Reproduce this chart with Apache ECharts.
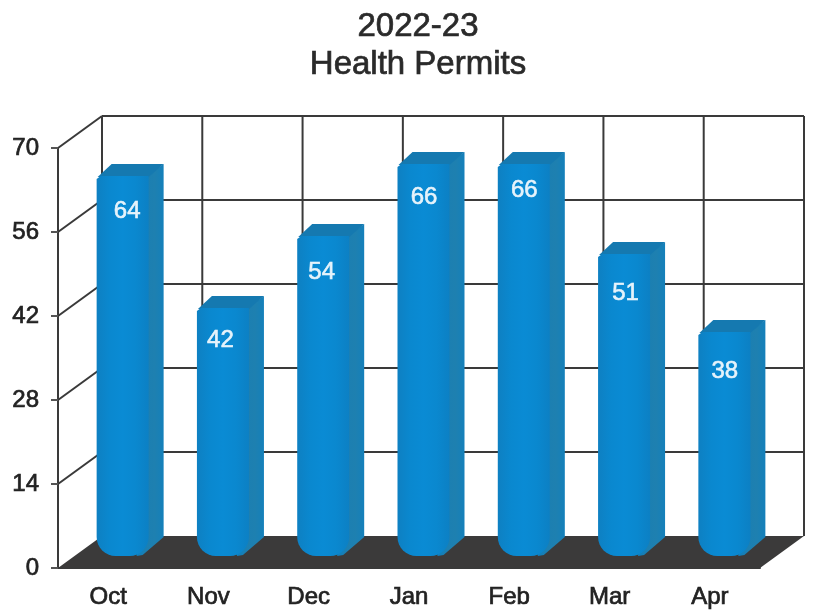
<!DOCTYPE html>
<html>
<head>
<meta charset="utf-8">
<style>html,body{margin:0;padding:0;background:#fff}#c{width:814px;height:616px}</style>
<script src="https://cdn.jsdelivr.net/npm/echarts@6/dist/echarts.min.js"></script>
</head>
<body>
<div id="c"></div>
<script>
const categories = ['Oct', 'Nov', 'Dec', 'Jan', 'Feb', 'Mar', 'Apr'];
const permits = [64, 42, 54, 66, 66, 51, 38];
const yTicks = [0, 14, 28, 42, 56, 70];

// Pseudo-3D look (pixels)
const WALL_DX = 44, WALL_DY = 32;
const BAR_LEFT = -11.5, BAR_W = 52, SIDE_DX = 15, SIDE_DY = 12, TOP_LIFT = 8, BASE_LIFT = 12, R = 19;
const LABEL_STYLE = [[19,35],[12,32],[13,36],[15,33],[15,26],[16,39],[15,39]];
const INK = '#3a3a3a';
const FONT = '"Liberation Sans", Arial, sans-serif';

function arc(cx, cy, r, a0, a1) {
  const pts = [];
  for (let k = 0; k <= 8; k++) {
    const a = (a0 + (a1 - a0) * k / 8) * Math.PI / 180;
    pts.push([cx + r * Math.cos(a), cy + r * Math.sin(a)]);
  }
  return pts;
}
const grad = (stops) => new echarts.graphic.LinearGradient(0, 0, 1, 0,
  stops.map((c, i) => ({ offset: i / (stops.length - 1), color: c })));

function renderWalls(params, api) {
  if (params.dataIndex !== 0) return;
  const cs = params.coordSys;
  const band = cs.width / categories.length;
  const kids = [];
  const line = (x1, y1, x2, y2) => kids.push({
    type: 'line', shape: { x1, y1, x2, y2 },
    style: { stroke: INK, lineWidth: 2 }
  });
  const x0 = cs.x, xEnd = cs.x + cs.width;
  yTicks.forEach((t) => {
    const y = api.coord([0, t])[1];
    if (t !== 0) line(x0, y, x0 + WALL_DX, y - WALL_DY);
    if (t !== 0) line(x0 + WALL_DX, y - WALL_DY, xEnd + WALL_DX, y - WALL_DY);
  });
  const yTop = cs.y - WALL_DY, yBot = cs.y + cs.height - WALL_DY;
  for (let i = 0; i <= categories.length; i++) {
    line(x0 + i * band + WALL_DX, yTop, x0 + i * band + WALL_DX, yBot);
  }
  kids.push({
    type: 'polygon',
    shape: { points: [[x0, cs.y + cs.height], [xEnd, cs.y + cs.height], [xEnd + WALL_DX, yBot], [x0 + WALL_DX, yBot]] },
    style: { fill: '#3b3a3a' }
  });
  return { type: 'group', children: kids };
}

function renderBar(params, api) {
  const i = api.value(0);
  const val = api.value(1);
  const c = api.coord([i, val]);
  const base = api.coord([i, 0]);
  const l = c[0] + BAR_LEFT, r = l + BAR_W;
  const top = c[1] - TOP_LIFT, bot = base[1] - BASE_LIFT;
  const front = [[l + 4, top]].concat(
    [[r, top]],
    arc(r - R, bot - R, R, 0, 90),
    arc(l + R, bot - R, R, 90, 180),
    [[l, top + 3]]
  );
  const nudge = LABEL_STYLE[i];
  return {
    type: 'group',
    children: [
      { type: 'polygon',
        shape: { points: [[r - 2, top], [r + SIDE_DX, top - SIDE_DY], [r + SIDE_DX, bot - 19], [r - 6, bot - 1], [r - 12, bot]] },
        style: { fill: grad(['#0d80c0', '#1b7fb2', '#1e80b0', '#1480bb']) } },
      { type: 'polygon',
        shape: { points: [[l + 1, top + 1], [l + SIDE_DX, top - SIDE_DY], [r + SIDE_DX, top - SIDE_DY], [r, top + 1]] },
        style: { fill: '#1579b0' } },
      { type: 'polygon',
        shape: { points: front },
        style: { fill: grad(['#0e80c2', '#0a88cf', '#0a8bd4', '#0a88cf', '#0c80c4']) } },
      { type: 'text',
        style: {
          text: String(val), x: c[0] + nudge[0], y: top + nudge[1],
          align: 'center', verticalAlign: 'middle',
          fill: '#e6f3fb', font: '24px ' + FONT,
          stroke: '#e6f3fb', lineWidth: 0.6
        } }
    ]
  };
}

const chart = echarts.init(document.getElementById('c'), null, { renderer: 'canvas' });
chart.setOption({
  animation: false,
  backgroundColor: '#fff',
  title: {
    text: '2022-23\nHealth Permits',
    left: 413, top: 3, textAlign: 'center',
    textStyle: {
      fontFamily: FONT,
      fontSize: 33, fontWeight: 'normal', color: '#2a2a2a', lineHeight: 38,
      textBorderColor: '#2a2a2a', textBorderWidth: 0.7
    }
  },
  grid: { left: 58, right: 54, top: 148, bottom: 48 },
  xAxis: {
    type: 'category', data: categories, z: 6,
    axisLine: { lineStyle: { color: INK, width: 2 } },
    axisTick: { length: 9, lineStyle: { color: '#555', width: 2 } },
    axisLabel: { margin: 17, color: '#222', fontSize: 24, fontFamily: FONT,
      textBorderColor: '#222', textBorderWidth: 0.7 },
    splitLine: { show: false }
  },
  yAxis: {
    type: 'value', min: 0, max: 70, interval: 14, z: 6,
    axisLine: { show: true, lineStyle: { color: INK, width: 2 } },
    axisTick: { show: true, length: 7, lineStyle: { color: '#555', width: 2 } },
    axisLabel: { margin: 19, color: '#222', fontSize: 24, fontFamily: FONT,
      textBorderColor: '#222', textBorderWidth: 0.7 },
    splitLine: { show: false }
  },
  series: [
    { type: 'custom', z: 1, clip: false, silent: true, renderItem: renderWalls,
      data: yTicks.map((t) => [0, t]) },
    { type: 'custom', z: 3, clip: false, renderItem: renderBar,
      encode: { x: 0, y: 1 },
      data: permits.map((v, i) => [i, v]) }
  ]
});
</script>
</body>
</html>
